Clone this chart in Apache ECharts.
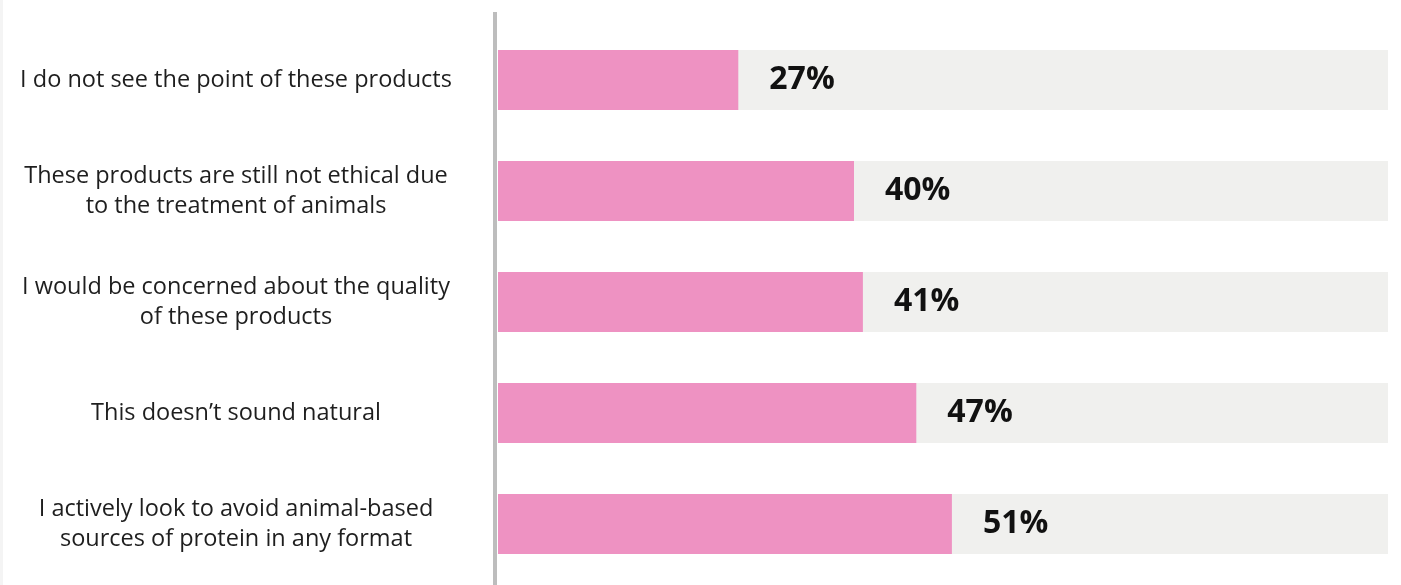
<!DOCTYPE html>
<html>
<head>
<meta charset="utf-8">
<style>
  html, body { margin: 0; padding: 0; background: #ffffff; }
  #chart { width: 1401px; height: 585px; }
</style>
<script src="https://cdn.jsdelivr.net/npm/echarts@6/dist/echarts.min.js"></script>
</head>
<body>
<div id="chart"></div>
<script>
// Reasons given for not buying the products (share of respondents, %)
const categories = [
  'I do not see the point of these products',
  'These products are still not ethical due\nto the treatment of animals',
  'I would be concerned about the quality\nof these products',
  'This doesn\u2019t sound natural',
  'I actively look to avoid animal-based\nsources of protein in any format'
];
const shares = [27, 40, 41, 47, 51];

const chart = echarts.init(document.getElementById('chart'), null, { renderer: 'canvas' });

chart.setOption({
  animation: false,
  backgroundColor: '#ffffff',
  grid: { left: 498, right: 13, top: 24.5, bottom: 5.5, containLabel: false },
  xAxis: {
    type: 'value',
    min: 0,
    max: 100,
    show: false
  },
  yAxis: {
    type: 'category',
    data: categories,
    inverse: true,
    axisLine: { show: false },
    axisTick: { show: false },
    splitLine: { show: false },
    axisLabel: {
      align: 'center',
      margin: 262,
      fontFamily: '"Open Sans", sans-serif',
      fontSize: 23.5,
      lineHeight: 30,
      color: '#1e1e1e'
    }
  },
  graphic: [
    {
      type: 'rect',
      shape: { x: 493, y: 12, width: 4, height: 573 },
      style: { fill: '#bdbdbd' },
      silent: true
    },
    {
      type: 'rect',
      shape: { x: 0, y: 0, width: 3, height: 585 },
      style: { fill: '#f4f4f4' },
      silent: true
    }
  ],
  series: [{
    type: 'bar',
    data: shares,
    barWidth: 60,
    showBackground: true,
    backgroundStyle: { color: '#f0f0ee' },
    itemStyle: { color: '#ee92c2' },
    label: {
      show: true,
      position: 'right',
      distance: 31,
      formatter: '{c}%',
      fontFamily: '"Open Sans", sans-serif',
      fontWeight: 'bold',
      fontSize: 32,
      color: '#111111'
    }
  }]
});
</script>
</body>
</html>
